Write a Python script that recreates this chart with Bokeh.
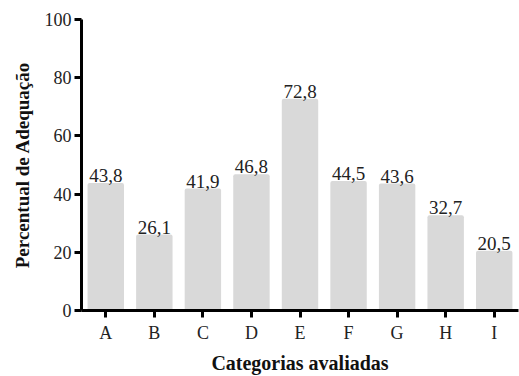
from bokeh.plotting import figure
from bokeh.models import ColumnDataSource, FactorRange, Range1d, FixedTicker
from bokeh.core.properties import value
from bokeh.embed import file_html
from bokeh.resources import INLINE

categories = ["A", "B", "C", "D", "E", "F", "G", "H", "I"]
values = [43.8, 26.1, 41.9, 46.8, 72.8, 44.5, 43.6, 32.7, 20.5]
labels = ["43,8", "26,1", "41,9", "46,8", "72,8", "44,5", "43,6", "32,7", "20,5"]
y_ticks = [0, 20, 40, 60, 80, 100]

src = ColumnDataSource(dict(cat=categories, val=values, lab=labels))

FONT = "'Liberation Serif', 'Times New Roman', serif"

p = figure(width=519, height=376, output_backend="svg", toolbar_location=None,
           x_range=FactorRange(*categories, range_padding=0),
           y_range=Range1d(0, 100),
           min_border_left=81, min_border_right=1, min_border_top=19, min_border_bottom=63)
p.outline_line_color = None
p.xgrid.grid_line_color = None
p.ygrid.grid_line_color = None

p.vbar(x="cat", top="val", width=0.75, source=src, fill_color="#d9d9d9",
       line_color=None, border_radius=2)
p.text(x="cat", y="val", text="lab", source=src, text_align="center",
       text_baseline="bottom", y_offset=-1, text_font=value(FONT),
       text_font_size="19px", text_color="#222222")

for ax in (p.xaxis[0], p.yaxis[0]):
    ax.axis_line_width = 3
    ax.axis_line_color = "black"
    ax.major_tick_line_width = 3
    ax.major_tick_line_color = "black"
    ax.major_label_text_font = FONT
    ax.major_label_text_font_size = "18px"
    ax.major_label_text_color = "#222222"
    ax.axis_label_text_font = FONT
    ax.axis_label_text_font_style = "bold"
    ax.axis_label_text_font_size = "20px"
    ax.axis_label_text_color = "#111111"
    ax.minor_tick_line_color = None

p.yaxis.ticker = FixedTicker(ticks=y_ticks)
p.yaxis.major_tick_out = 7
p.yaxis.major_tick_in = 0
p.yaxis.major_label_standoff = 3
p.yaxis.axis_label = "Percentual de Adequação"
p.yaxis.axis_label_text_font_size = "19px"
p.yaxis.axis_label_standoff = 9

p.xaxis.major_tick_out = 7
p.xaxis.major_tick_in = 0
p.xaxis.major_label_standoff = 5
p.xaxis.axis_label = "Categorias avaliadas"
p.xaxis.axis_label_standoff = 6

open("out.html", "w").write(file_html(p, INLINE))
